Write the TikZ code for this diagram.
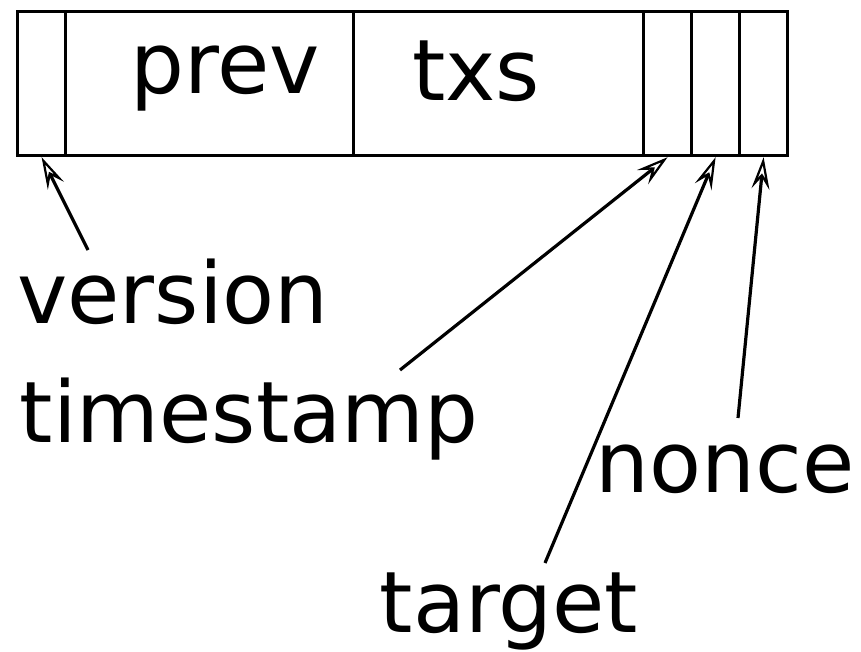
\documentclass[tikz,border=0pt]{standalone}
\usepackage{fontspec}
\setmainfont{DejaVu Sans}
\usetikzlibrary{arrows.meta}
\begin{document}
\begin{tikzpicture}[x=1pt,y=-1pt,
  cell/.style={draw,line width=3.2pt,rectangle,inner sep=0pt,minimum height=144pt,anchor=north west},
  label/.style={inner sep=0pt,anchor=base,font=\fontsize{85}{100}\selectfont},
  pointer/.style={line width=3.2pt,-{Stealth[open,length=32pt,width=18pt,inset=12pt,line width=2.2pt]}}]
  \useasboundingbox (0,0) rectangle (861,651);
  % header cells
  \node[cell,minimum width=48pt]  (ver)  at (16,10)  {};
  \node[cell,minimum width=288pt] (prev) at (64,10)  {};
  \node[cell,minimum width=290pt] (txs)  at (352,10) {};
  \node[cell,minimum width=48pt]  (ts)   at (642,10) {};
  \node[cell,minimum width=48pt]  (tg)   at (690,10) {};
  \node[cell,minimum width=48pt]  (nc)   at (738,10) {};
  % cell captions
  \node[label] (prevtxt) at (225,93)  {prev};
  \node[label] (txstxt)  at (476,100) {txs};
  % field names below
  \node[label] (lver) at (173,323) {version};
  \node[label] (lts)  at (249,442) {timestamp};
  \node[label] (lnc)  at (725,492) {nonce};
  \node[label] (ltg)  at (509,632) {target};
  % pointer tails
  \coordinate (pver) at (88,250);
  \coordinate (pts)  at (400,370);
  \coordinate (ptg)  at (545,563);
  \coordinate (pnc)  at (738,418);
  \draw[pointer] (pver) -- (ver.south);
  \draw[pointer] (pts)  -- (ts.south);
  \draw[pointer] (ptg)  -- (tg.south);
  \draw[pointer] (pnc)  -- (nc.south);
\end{tikzpicture}
\end{document}
